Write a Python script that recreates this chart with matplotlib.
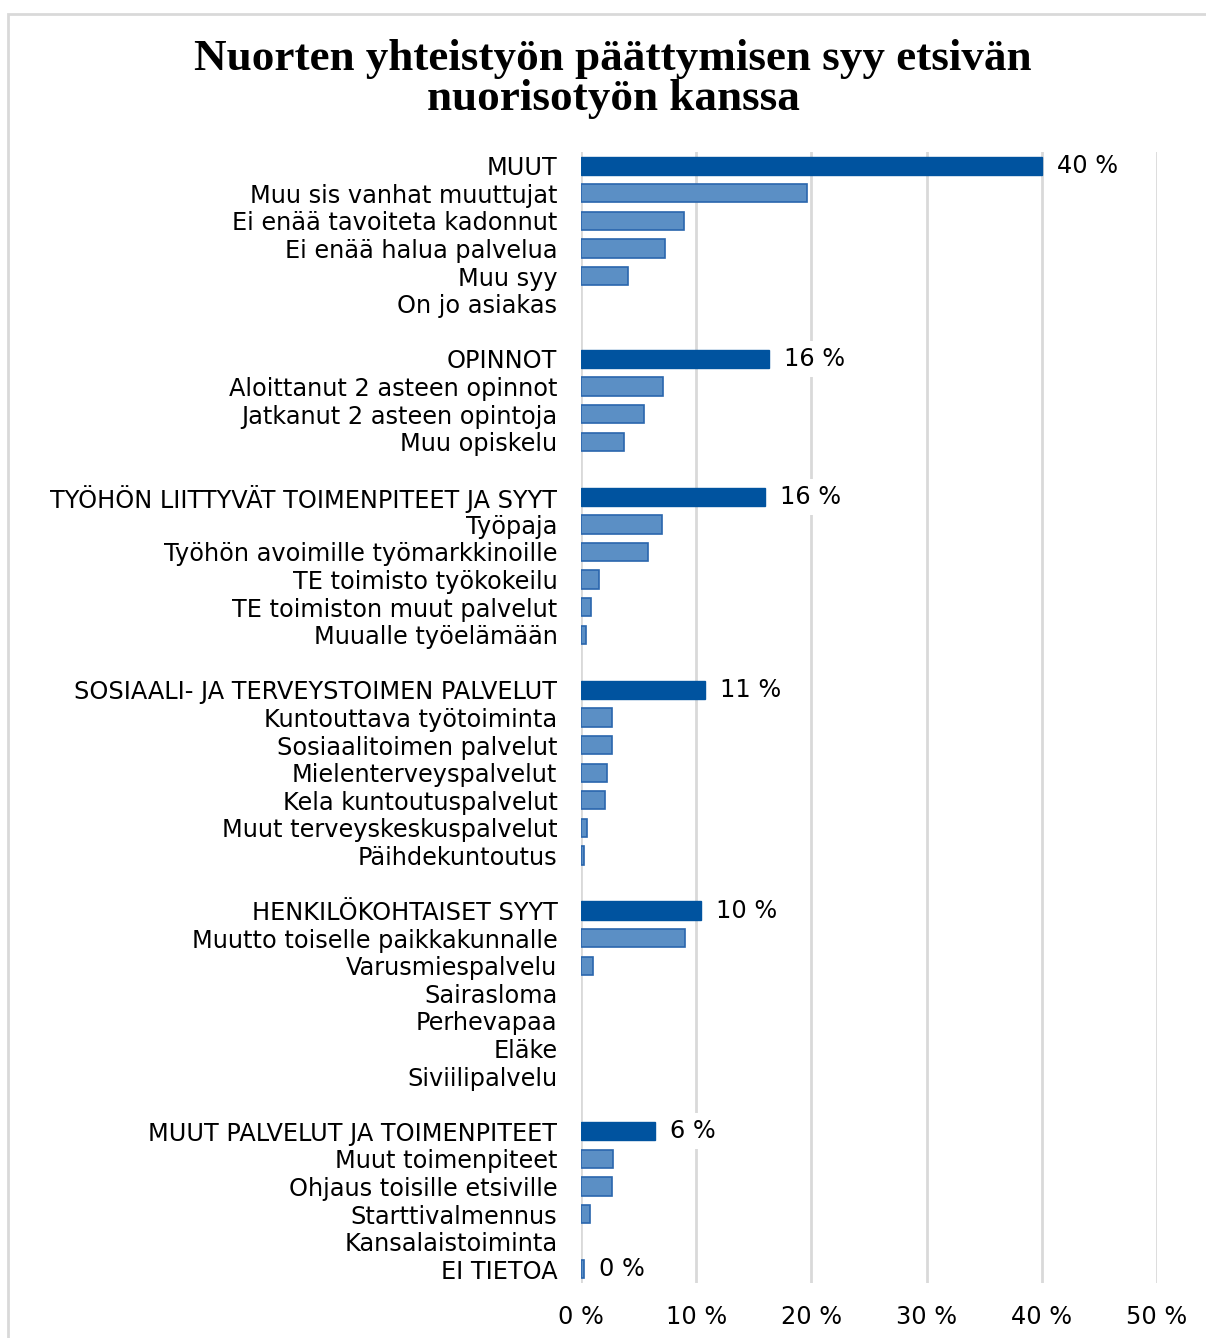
import matplotlib
matplotlib.use("Agg")
import matplotlib.pyplot as plt
from matplotlib.patches import Rectangle

title = "Nuorten yhteistyön päättymisen syy etsivän\nnuorisotyön kanssa"

categories = [
    "MUUT", "Muu sis vanhat muuttujat", "Ei enää tavoiteta kadonnut", "Ei enää halua palvelua",
    "Muu syy", "On jo asiakas", "",
    "OPINNOT", "Aloittanut 2 asteen opinnot", "Jatkanut 2 asteen opintoja", "Muu opiskelu", "",
    "TYÖHÖN LIITTYVÄT TOIMENPITEET JA SYYT", "Työpaja", "Työhön avoimille työmarkkinoille",
    "TE toimisto työkokeilu", "TE toimiston muut palvelut", "Muualle työelämään", "",
    "SOSIAALI- JA TERVEYSTOIMEN PALVELUT", "Kuntouttava työtoiminta", "Sosiaalitoimen palvelut",
    "Mielenterveyspalvelut", "Kela kuntoutuspalvelut", "Muut terveyskeskuspalvelut", "Päihdekuntoutus", "",
    "HENKILÖKOHTAISET SYYT", "Muutto toiselle paikkakunnalle", "Varusmiespalvelu", "Sairasloma",
    "Perhevapaa", "Eläke", "Siviilipalvelu", "",
    "MUUT PALVELUT JA TOIMENPITEET", "Muut toimenpiteet", "Ohjaus toisille etsiville",
    "Starttivalmennus", "Kansalaistoiminta", "EI TIETOA",
]
values = [
    40.0, 19.6, 8.9, 7.3, 4.1, 0.0, None,
    16.3, 7.1, 5.5, 3.7, None,
    16.0, 7.0, 5.8, 1.6, 0.9, 0.4, None,
    10.8, 2.7, 2.7, 2.3, 2.1, 0.5, 0.25, None,
    10.4, 9.0, 1.0, 0.0, 0.0, 0.0, 0.0, None,
    6.4, 2.8, 2.7, 0.8, 0.0, 0.3,
]
headers = ["MUUT", "OPINNOT", "TYÖHÖN LIITTYVÄT TOIMENPITEET JA SYYT",
           "SOSIAALI- JA TERVEYSTOIMEN PALVELUT", "HENKILÖKOHTAISET SYYT",
           "MUUT PALVELUT JA TOIMENPITEET", "EI TIETOA"]
header_labels = ["40 %", "16 %", "16 %", "11 %", "10 %", "6 %", "0 %"]
xticks = [0, 10, 20, 30, 40, 50]
xticklabels = ["0 %", "10 %", "20 %", "30 %", "40 %", "50 %"]

W, H = 1206, 1338
fig = plt.figure(figsize=(W / 100, H / 100), dpi=100)
fig.patch.set_facecolor("white")

# chart border
fig.patches.append(Rectangle((8 / W, -0.01), 1.2, 1 - 14 / H + 0.01, transform=fig.transFigure,
                             fill=False, edgecolor="#d9d9d9", linewidth=2))

ax = fig.add_axes([581 / W, 1 - 1283 / H, (1157 - 581) / W, (1283 - 152) / H])
dark = "#00539F"
light = "#5B8FC5"
edge = "#2A66AD"
FS = 17.3

pos = list(range(len(categories)))
for i, (c, v) in enumerate(zip(categories, values)):
    if v is None or v == 0:
        continue
    if c in headers and c != "EI TIETOA":
        ax.barh(i, v, height=0.66, color=dark, edgecolor=dark, linewidth=1, zorder=3)
    else:
        ax.barh(i, v, height=0.66, color=light, edgecolor=edge, linewidth=1.2, zorder=3)

for h, lab in zip(headers, header_labels):
    i = categories.index(h)
    v = values[i]
    ax.text(v + 1.3, i, lab, va="center", ha="left", fontsize=FS, color="#000000",
            family="DejaVu Sans", zorder=5,
            bbox=dict(boxstyle="square,pad=0.25", facecolor="white", edgecolor="none"))

ax.set_xlim(0, 50)
ax.set_ylim(len(categories) - 0.5, -0.5)
ax.set_yticks(pos)
ax.set_yticklabels(categories, fontsize=FS, family="DejaVu Sans")
ax.set_xticks(xticks)
ax.set_xticklabels(xticklabels, fontsize=FS, family="DejaVu Sans")
ax.tick_params(axis="y", length=0, pad=17)
ax.tick_params(axis="x", length=0, pad=16)
for s in ax.spines.values():
    s.set_visible(False)
ax.grid(axis="x", color="#d9d9d9", linewidth=2, zorder=0)
ax.set_axisbelow(True)

fig.text(613 / W, 1 - 79 / H, title, ha="center", va="center", fontsize=32.5,
         fontweight="bold", family="Liberation Serif", linespacing=1.02)

fig.savefig("out.png", dpi=100, facecolor="white")
